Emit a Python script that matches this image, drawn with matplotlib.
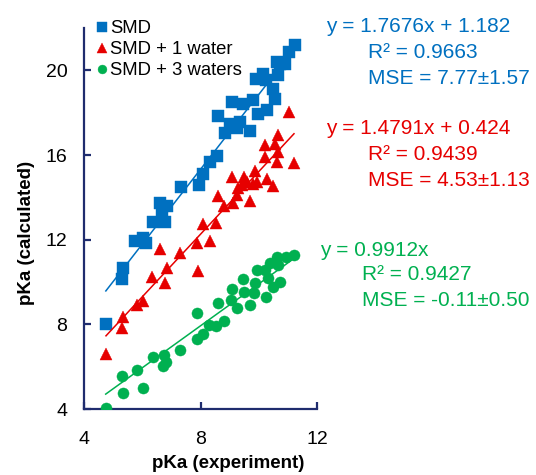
import matplotlib
matplotlib.use("Agg")
import matplotlib.pyplot as plt
import numpy as np

plt.rcParams['font.family'] = ['Liberation Sans', 'DejaVu Sans']

# --- data ---
smd_x = [4.75, 5.29, 5.34, 5.75, 6.03, 6.13, 6.38, 6.78, 6.61, 6.84, 6.67, 7.33, 7.95,
         8.10, 8.33, 8.56, 8.61, 8.84, 9.01, 9.07, 9.24, 9.36, 9.47, 9.70, 9.81, 9.98,
         10.27, 9.91, 10.16, 10.25, 10.48, 10.56, 10.67, 10.64, 10.73, 10.90, 11.04, 11.24]
smd_y = [8.01, 10.13, 10.65, 11.93, 12.07, 11.83, 12.84, 12.84, 13.71, 13.58, 13.42, 14.48, 14.57,
         15.09, 15.67, 15.94, 17.83, 17.04, 17.45, 18.50, 17.26, 17.54, 18.43, 17.12, 18.62, 17.95,
         18.11, 19.57, 19.84, 19.53, 19.13, 18.66, 19.76, 20.39, 20.31, 20.31, 20.86, 21.18]

w1_x = [4.755, 5.29, 5.35, 5.81, 6.01, 6.32, 6.78, 6.86, 6.61, 7.30, 7.92, 7.87, 8.33,
        8.10, 8.53, 8.81, 8.61, 9.13, 9.24, 9.70, 9.30, 9.41, 9.07, 9.49, 9.59, 9.81,
        9.93, 9.87, 10.27, 10.50, 10.21, 10.62, 10.67, 10.21, 10.56, 10.66, 11.04, 11.21]
w1_y = [6.60, 7.81, 8.36, 8.91, 9.10, 10.24, 9.93, 10.64, 11.58, 11.35, 10.51, 11.86, 11.93,
        12.76, 12.79, 13.58, 14.08, 13.71, 14.10, 13.82, 14.43, 14.57, 14.95, 14.95, 14.73, 14.62,
        14.73, 15.23, 14.85, 14.52, 15.89, 15.67, 16.14, 16.46, 16.54, 16.93, 18.02, 15.60]

w3_x = [4.745, 5.29, 5.35, 5.81, 6.04, 6.38, 6.75, 6.72, 6.82, 7.30, 7.87, 7.89, 8.10,
        8.30, 8.53, 8.82, 8.61, 9.04, 9.24, 9.07, 9.45, 9.49, 9.70, 9.84, 9.87, 10.25,
        10.50, 10.33, 9.95, 10.21, 10.67, 10.62, 10.39, 10.94, 11.21, 10.73]
w3_y = [4.03, 5.56, 4.77, 5.84, 4.98, 6.44, 6.55, 6.03, 6.23, 6.78, 7.30, 8.52, 7.53,
        7.96, 7.92, 8.17, 9.02, 9.14, 8.75, 9.65, 10.12, 9.54, 8.91, 9.46, 9.96, 9.27,
        9.77, 10.17, 10.59, 10.59, 10.80, 11.16, 10.88, 11.19, 11.27, 10.01]

series_names = ["SMD", "SMD + 1 water", "SMD + 3 waters"]
slopes = [1.7676, 1.4791, 0.9912]
intercepts = [1.182, 0.424, 0.0]
fit_texts = [
    ["y = 1.7676x + 1.182", "R² = 0.9663", "MSE = 7.77±1.57"],
    ["y = 1.4791x + 0.424", "R² = 0.9439", "MSE = 4.53±1.13"],
    ["y = 0.9912x", "R² = 0.9427", "MSE = -0.11±0.50"],
]
x_ticks = [4, 8, 12]
y_ticks = [4, 8, 12, 16, 20]

colors = ["#0070C0", "#E60000", "#00B050"]
markers = ["s", "^", "o"]
msizes = [8.5, 8.5, 8.0]

W, H = 536, 475
fig = plt.figure(figsize=(W/100, H/100), dpi=100)
ax = fig.add_axes([84/W, 1-409/H, (317-84)/W, (409-28)/H])

xs_all = [smd_x, w1_x, w3_x]
ys_all = [smd_y, w1_y, w3_y]
handles = []
for xs, ys, c, m, ms, a, b, name in zip(xs_all, ys_all, colors, markers, msizes, slopes, intercepts, series_names):
    xs = np.array(xs); ys = np.array(ys)
    h, = ax.plot(xs, ys, linestyle='none', marker=m, markersize=ms, color=c,
                 markeredgecolor=c, markeredgewidth=0.3, label=name, zorder=3)
    handles.append(h)
    xl = np.array([xs.min(), xs.max()])
    ax.plot(xl, a*xl + b, color=c, linewidth=1.1, zorder=4)

ax.set_xlim(4, 12)
ax.set_ylim(4, 22)
ax.set_xticks(x_ticks)
ax.set_yticks(y_ticks)
navy = "#1F2C6E"
for s in ['top', 'right']:
    ax.spines[s].set_visible(False)
for s in ['left', 'bottom']:
    ax.spines[s].set_color(navy)
    ax.spines[s].set_linewidth(1.6)
ax.tick_params(direction='in', length=5, width=1.6, color=navy, labelsize=14)
ax.tick_params(axis='x', pad=16)
ax.tick_params(axis='y', pad=12)

ax.set_xlabel("pKa (experiment)", fontsize=13.5, fontweight='bold', va='center')
ax.set_ylabel("pKa (calculated)", fontsize=13.5, fontweight='bold', va='center')
ax.xaxis.set_label_coords((228-84)/233, (409-463)/381)
ax.yaxis.set_label_coords((27-84)/233, (409-233)/381)

leg = fig.legend(handles=handles, loc='upper left', bbox_to_anchor=(98/W, 1-20/H),
                 frameon=False, fontsize=13.3, handlelength=0.45, handletextpad=0.2,
                 labelspacing=0.22, borderaxespad=0, borderpad=0, markerscale=0.8)

# fit annotation positions (figure pixels)
blocks = [(326, 368, 27), (326, 368, 129), (320, 362, 250)]
for (xa, xb, y0), lines, c in zip(blocks, fit_texts, colors):
    fig.text(xa/W, 1-y0/H, lines[0], color=c, fontsize=15, va='center', ha='left')
    fig.text(xb/W, 1-(y0+25)/H, lines[1], color=c, fontsize=15, va='center', ha='left')
    fig.text(xb/W, 1-(y0+51)/H, lines[2], color=c, fontsize=15, va='center', ha='left')

fig.savefig("out.png", dpi=100)
